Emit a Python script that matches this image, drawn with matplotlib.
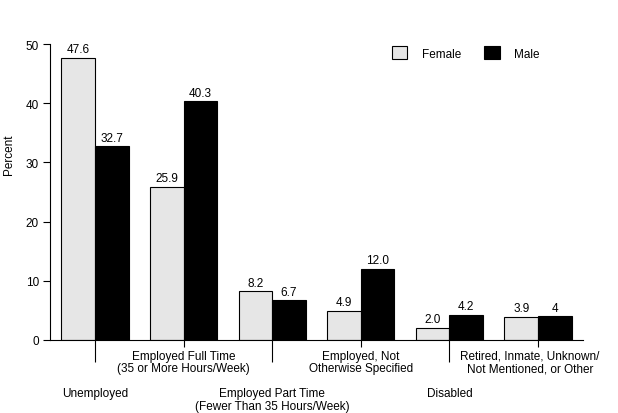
import matplotlib
matplotlib.use("Agg")
import matplotlib.pyplot as plt
import matplotlib.transforms as mtransforms
import numpy as np

plt.rcParams['font.family'] = ['Liberation Sans', 'DejaVu Sans']
FS = 8.5

categories = ["Unemployed",
              "Employed Full Time\n(35 or More Hours/Week)",
              "Employed Part Time\n(Fewer Than 35 Hours/Week)",
              "Employed, Not\nOtherwise Specified",
              "Disabled",
              "Retired, Inmate, Unknown/\nNot Mentioned, or Other"]
female = [47.6, 25.9, 8.2, 4.9, 2.0, 3.9]
male = [32.7, 40.3, 6.7, 12.0, 4.2, 4.0]
female_labels = ["47.6", "25.9", "8.2", "4.9", "2.0", "3.9"]
male_labels = ["32.7", "40.3", "6.7", "12.0", "4.2", "4"]
yticks = [0, 10, 20, 30, 40, 50]

W, H = 618, 414
fig = plt.figure(figsize=(W / 100, H / 100), dpi=100)
ax = fig.add_axes([50 / W, 1 - 341 / H, (583 - 50) / W, (341 - 45) / H])

x = np.arange(len(categories))
bw = 0.38
bf = ax.bar(x - bw / 2, female, bw, color='#e6e6e6', edgecolor='black', linewidth=0.8, label='Female')
bm = ax.bar(x + bw / 2, male, bw, color='black', edgecolor='black', linewidth=0.8, label='Male')

for rect, lab in zip(bf, female_labels):
    ax.annotate(lab, (rect.get_x() + rect.get_width() / 2, rect.get_height()),
                xytext=(0, 2), textcoords='offset points', ha='center', va='bottom', fontsize=FS)
for rect, lab in zip(bm, male_labels):
    ax.annotate(lab, (rect.get_x() + rect.get_width() / 2, rect.get_height()),
                xytext=(0, 2), textcoords='offset points', ha='center', va='bottom', fontsize=FS)

ax.set_xlim(-0.508, 5.508)
ax.set_ylim(0, 50)
ax.set_yticks(yticks)
ax.set_yticklabels([str(v) for v in yticks], fontsize=FS)
ax.tick_params(axis='y', length=5, width=0.8, pad=3, direction='out')

# short ticks (odd groups) as major, long ticks (even groups) as minor
ax.set_xticks(x[1::2])
ax.set_xticklabels(categories[1::2], fontsize=FS)
ax.set_xticks(x[0::2], minor=True)
ax.set_xticklabels(categories[0::2], minor=True, fontsize=FS)
ax.tick_params(axis='x', which='major', length=5, width=0.8, pad=2)
ax.tick_params(axis='x', which='minor', length=16, width=0.8, pad=18)
for t in ax.get_xticklabels() + ax.get_xticklabels(minor=True):
    t.set_linespacing(1.05)
lab_last = ax.get_xticklabels()[-1]
lab_last.set_transform(lab_last.get_transform() + mtransforms.ScaledTranslation(-8 / 100, 0, fig.dpi_scale_trans))

for s in ['top', 'right']:
    ax.spines[s].set_visible(False)
for s in ['left', 'bottom']:
    ax.spines[s].set_linewidth(0.8)

ax.set_ylabel('Percent', fontsize=FS)
ax.yaxis.set_label_coords(-0.066, 0.63)

fig.legend(handles=[bf, bm], labels=['Female', 'Male'], loc='upper left',
           bbox_to_anchor=(392 / W, 1 - 47 / H), ncol=2, frameon=False, fontsize=FS,
           borderaxespad=0, borderpad=0, handlelength=1.3, handleheight=1.35,
           handletextpad=1.2, columnspacing=2.0)

fig.savefig('out.png', dpi=100)
